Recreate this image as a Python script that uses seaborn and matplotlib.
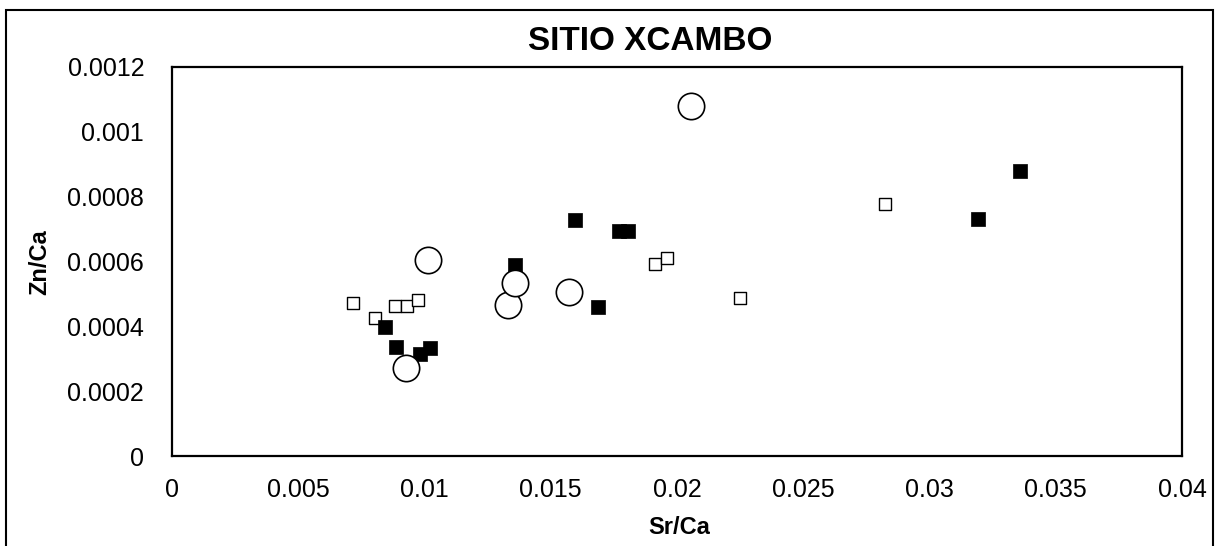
import matplotlib
matplotlib.use("Agg")
import matplotlib.pyplot as plt
import seaborn as sns
import pandas as pd
from matplotlib.patches import Rectangle

# Data
filled_sr = [0.00844, 0.00887, 0.00982, 0.01022, 0.01358, 0.01596, 0.0177, 0.01806, 0.01687, 0.03192, 0.03358]
filled_zn = [0.000399, 0.000337, 0.000315, 0.000334, 0.000588, 0.000727, 0.000693, 0.000693, 0.000461, 0.00073, 0.000878]

circle_sr = [0.00927, 0.01014, 0.01331, 0.01358, 0.01572, 0.02055]
circle_zn = [0.000272, 0.000606, 0.000467, 0.000535, 0.000507, 0.00108]

open_sr = [0.00717, 0.00804, 0.00883, 0.00931, 0.00974, 0.01913, 0.0196, 0.0225, 0.02824]
open_zn = [0.000473, 0.000427, 0.000464, 0.000464, 0.000482, 0.000591, 0.000612, 0.000486, 0.000776]

x_ticks = [0, 0.005, 0.01, 0.015, 0.02, 0.025, 0.03, 0.035, 0.04]
x_labels = ["0", "0.005", "0.01", "0.015", "0.02", "0.025", "0.03", "0.035", "0.04"]
y_ticks = [0, 0.0002, 0.0004, 0.0006, 0.0008, 0.001, 0.0012]
y_labels = ["0", "0.0002", "0.0004", "0.0006", "0.0008", "0.001", "0.0012"]

sns.set_style("white")
plt.rcParams['font.family'] = ['Liberation Sans', 'DejaVu Sans']
plt.rcParams['text.color'] = 'black'
plt.rcParams['axes.labelcolor'] = 'black'
plt.rcParams['xtick.color'] = 'black'
plt.rcParams['ytick.color'] = 'black'

W, H = 1222, 546
fig = plt.figure(figsize=(W / 100, H / 100), dpi=100)
ax = fig.add_axes([172 / W, 1 - 456 / H, (1182 - 172) / W, (456 - 67) / H])

df_f = pd.DataFrame({"Sr/Ca": filled_sr, "Zn/Ca": filled_zn})
df_c = pd.DataFrame({"Sr/Ca": circle_sr, "Zn/Ca": circle_zn})
df_o = pd.DataFrame({"Sr/Ca": open_sr, "Zn/Ca": open_zn})

sns.scatterplot(data=df_o, x="Sr/Ca", y="Zn/Ca", ax=ax, marker="s", s=70,
                facecolor="white", edgecolor="black", linewidth=1.0, zorder=3)
sns.scatterplot(data=df_f, x="Sr/Ca", y="Zn/Ca", ax=ax, marker="s", s=115,
                color="black", edgecolor="black", linewidth=0.5, zorder=4)
sns.scatterplot(data=df_c, x="Sr/Ca", y="Zn/Ca", ax=ax, marker="o", s=360,
                facecolor="white", edgecolor="black", linewidth=1.2, zorder=5)

ax.set_xlim(0, 0.04)
ax.set_ylim(0, 0.0012)
ax.set_xticks(x_ticks)
ax.set_xticklabels(x_labels)
ax.set_yticks(y_ticks)
ax.set_yticklabels(y_labels)
ax.tick_params(axis="x", direction="inout", length=8, width=1, pad=12, labelsize=18, colors="black")
ax.tick_params(axis="y", direction="out", length=8, width=1, pad=12, labelsize=18, colors="black")
for sp in ax.spines.values():
    sp.set_visible(True)
    sp.set_color("black")
    sp.set_linewidth(1.6)

ax.set_xlabel("")
ax.set_ylabel("")
fig.text(679 / W, 1 - 528 / H, "Sr/Ca", ha="center", va="center", fontsize=17, fontweight="bold", color="black")
fig.text(40 / W, 1 - 262 / H, "Zn/Ca", ha="center", va="center", rotation=90, fontsize=17, fontweight="bold", color="black")
fig.text(650 / W, 1 - 42 / H, "SITIO XCAMBO", ha="center", va="center", fontsize=24, fontweight="bold", color="black")

fig.add_artist(Rectangle((6 / W, -0.05), (1213 - 6) / W, 1 - 10 / H + 0.05,
                         transform=fig.transFigure, fill=False, edgecolor="black",
                         linewidth=1.5, clip_on=False))

fig.savefig("out.png", dpi=100, facecolor="white")
